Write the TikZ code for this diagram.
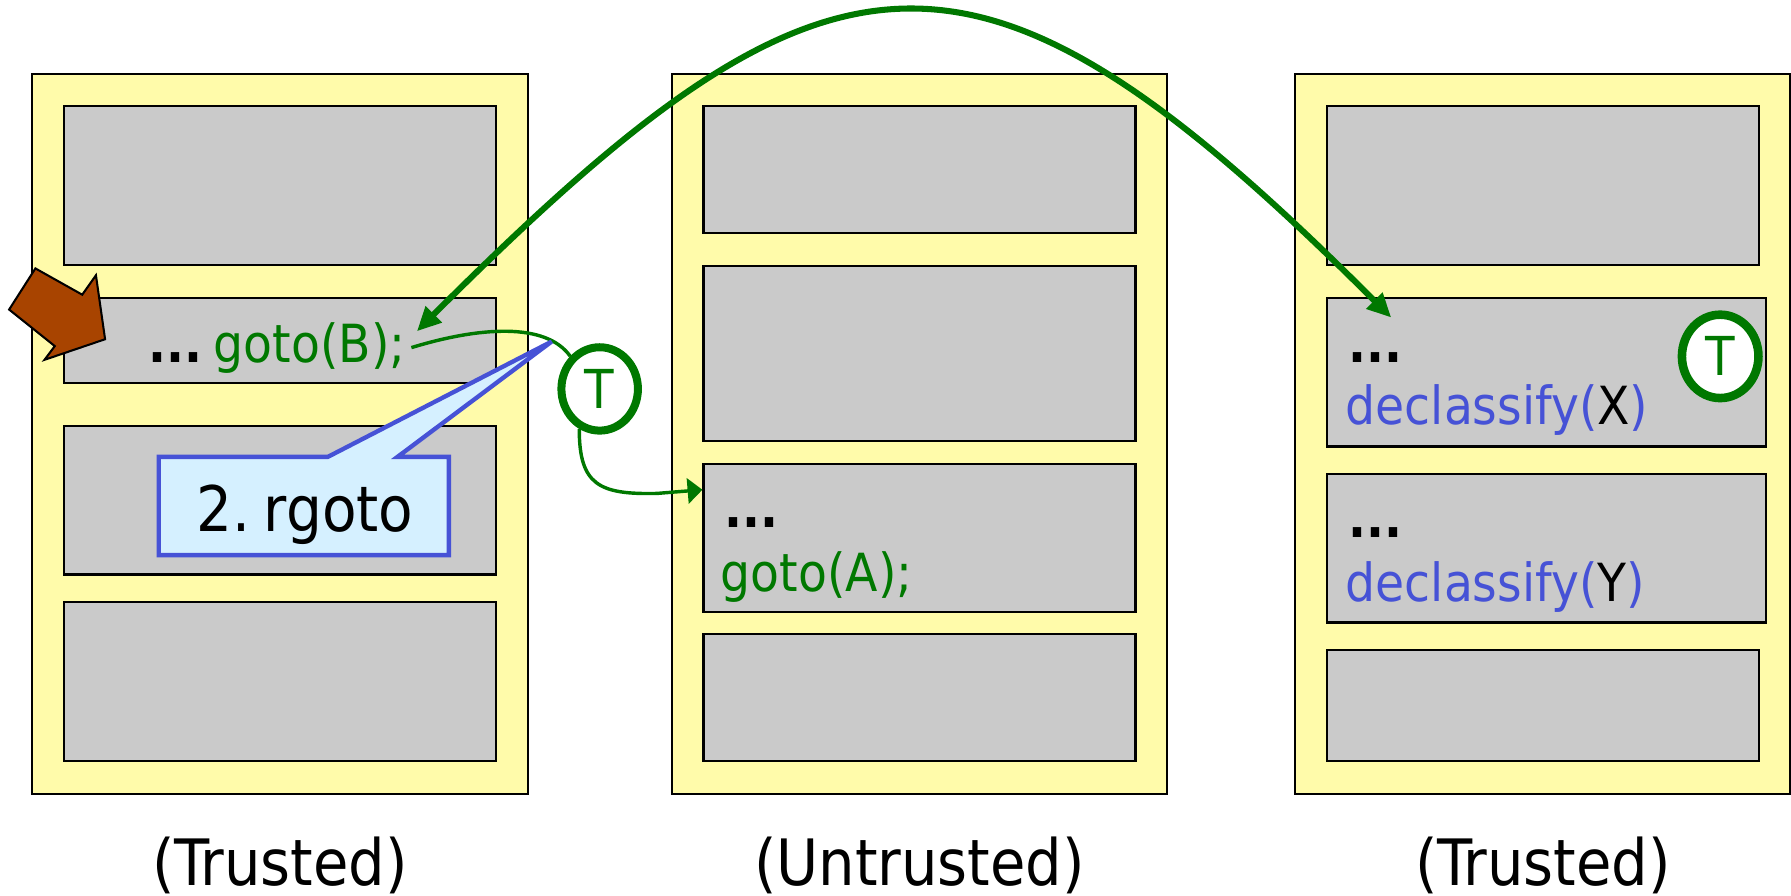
\documentclass[tikz,border=0pt]{standalone}
\usepackage{fontspec}
\setmainfont{DejaVu Sans Condensed}
\usetikzlibrary{arrows.meta,shapes.geometric,calc}
\definecolor{colyellow}{RGB}{255,251,170}
\definecolor{colgray}{RGB}{202,202,202}
\definecolor{codegreen}{RGB}{0,120,0}
\definecolor{codeblue}{RGB}{70,82,214}
\definecolor{calloutfill}{RGB}{213,240,255}
\definecolor{jumpbrown}{RGB}{168,68,0}

% \mkrect{style}{name}{x1}{y1}{x2}{y2}: a rectangle node spanning two corners
\newcommand\mkrect[6]{%
  \node[#1, minimum width={(#5)-(#3)}, minimum height={(#6)-(#4)}]
    (#2) at ({((#3)+(#5))/2},{((#4)+(#6))/2}) {};}

\begin{document}
\begin{tikzpicture}[x=1pt,y=-1pt,
  column/.style={rectangle,draw=black,line width=1.8pt,fill=colyellow,inner sep=0pt},
  block/.style={rectangle,draw=black,line width=2pt,fill=colgray,inner sep=0pt},
  code/.style={inner sep=0pt,anchor=base west,font=\fontsize{46}{55}\selectfont},
  dots/.style={code,font=\fontsize{46}{55}\selectfont\bfseries},
  caption/.style={inner sep=0pt,anchor=base,font=\fontsize{56}{67}\selectfont},
  tmark/.style={ellipse,draw=codegreen,line width=7pt,fill=white,inner sep=0pt,
    minimum width=67pt,minimum height=73pt,text=codegreen,
    font=\fontsize{47}{55}\selectfont},
  thinflow/.style={draw=codegreen,line width=3pt},
  jump/.style={draw=codegreen,line width=5.3pt},
]
\useasboundingbox (0,0) rectangle (1568,784);

% three memory regions
\mkrect{column}{colL}{28}{65}{462}{695}
\mkrect{column}{colM}{588}{65}{1022}{695}
\mkrect{column}{colR}{1134}{65}{1567}{695}

% code blocks, left region
\mkrect{block}{l1}{56}{93}{434}{232}
\mkrect{block}{l2}{56}{261}{434}{335}
\mkrect{block}{l3}{56}{373}{434}{503}
\mkrect{block}{l4}{56}{527}{434}{666}
% code blocks, middle region
\mkrect{block}{m1}{616}{93}{994}{204}
\mkrect{block}{m2}{616}{233}{994}{386}
\mkrect{block}{m3}{616}{406}{994}{536}
\mkrect{block}{m4}{616}{555}{994}{666}
% code blocks, right region
\mkrect{block}{r1}{1162}{93}{1540}{232}
\mkrect{block}{r2}{1162}{261}{1546}{391}
\mkrect{block}{r3}{1162}{415}{1546}{545}
\mkrect{block}{r4}{1162}{569}{1540}{666}

% code text
\node[dots] (dotsL) at (130,317) {...};
\node[code,text=codegreen] (gotoB) at (187,317) {goto(B);};
\node[dots] (dotsM) at (634,462) {...};
\node[code,text=codegreen] (gotoA) at (631,518) {goto(A);};
\node[dots] (dotsR1) at (1180,317) {...};
\node[code,text=codeblue] (declX) at (1178,372) {declassify(\textcolor{black}{X})};
\node[dots] (dotsR2) at (1180,471) {...};
\node[code,text=codeblue] (declY) at (1178,527) {declassify(\textcolor{black}{Y})};

% region captions
\node[caption] (capL) at (245,775) {(Trusted)};
\node[caption] (capM) at (805,775) {(Untrusted)};
\node[caption] (capR) at (1351,775) {(Trusted)};

% entry point marker
\draw[fill=jumpbrown,line width=1.8pt,line join=miter]
  (31,235) -- (72,258) -- (84,241) -- (92,297) -- (39,315) -- (48,303) -- (8,271) -- cycle;

% trusted-transfer markers
\node[tmark] (t1) at (525,340.5) {T};
\node[tmark,line width=7.5pt] (t2) at (1506,312) {T};

% goto(B) through the T check into the untrusted block
\draw[thinflow] ([xshift=5pt]gotoB.east) .. controls (420,286) and (478,282) .. (t1.132);
\draw[thinflow,-{Triangle[length=13pt,width=22pt]}]
  (t1.243) .. controls (507,425) and (525,433) .. (575,432)
  -- ($(m3.north west)!0.18!(m3.south west)$);

% callout
\draw[draw=codeblue,line width=3.8pt,fill=calloutfill,line join=miter]
  (139,400) -- (287,400) -- (483,299) -- (348,400) -- (393,400)
  -- (393,486) -- (139,486) -- cycle;
\node[inner sep=0pt,anchor=base,font=\fontsize{55}{66}\selectfont] (rgoto) at (267,465.5) {2.\kern-4pt\ rgoto};

% long jump between the trusted regions
\coordinate (jumpsrc) at (365,290);
\coordinate (jumpdst) at (1218,278);
\draw[jump,{Triangle[length=21pt,width=19pt]}-{Triangle[length=21pt,width=19pt]}]
  (jumpsrc) .. controls (729,-74) and (854,-86) .. (jumpdst);
\end{tikzpicture}
\end{document}
